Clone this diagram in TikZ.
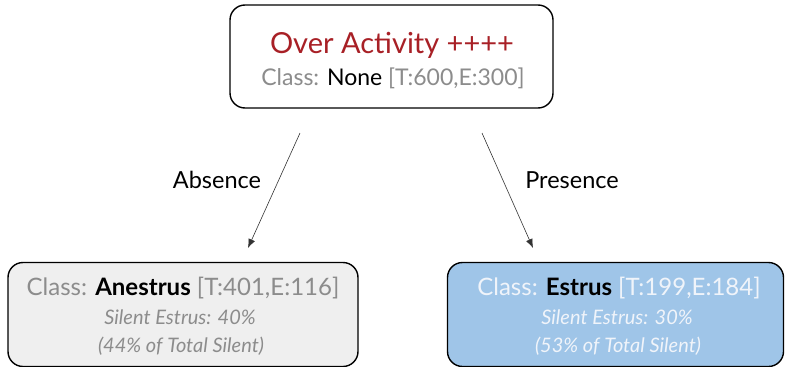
\documentclass[tikz,border=0pt]{standalone}
\usepackage{fontspec}
\setmainfont{Lato}
\usetikzlibrary{arrows.meta}
\definecolor{titlered}{RGB}{168,32,38}
\definecolor{softgray}{RGB}{140,140,140}
\definecolor{leaffill}{RGB}{239,239,239}
\definecolor{hitfill}{RGB}{159,197,232}
\definecolor{hittext}{RGB}{240,244,250}
\tikzset{
  treebox/.style={draw=black, line width=1.4pt, rounded corners=15pt, inner sep=0pt},
  branch/.style={draw=black!80, line width=0.6pt, -{Latex[length=9pt,width=7pt]}},
  branchlabel/.style={font=\fontsize{23.5}{28}\selectfont, text=black, anchor=base, inner sep=0pt},
  titleline/.style={font=\fontsize{29}{32}\selectfont, text=titlered, anchor=base, inner sep=0pt},
  classline/.style={font=\fontsize{24}{28}\selectfont, anchor=base, inner sep=0pt},
  noteline/.style={font=\fontsize{20}{24}\selectfont\itshape, anchor=base, inner sep=0pt},
}
\begin{document}
\begin{tikzpicture}[x=1pt,y=-1pt]
  \useasboundingbox (0,0) rectangle (785,367);
  % root split
  \node[treebox, fill=white, minimum width=323pt, minimum height=103pt] (root) at (391.5,56.5) {};
  \node[titleline] (roottitle) at (392,53) {Over Activity ++++};
  \node[classline, font=\fontsize{23}{28}\selectfont, text=softgray] (rootclass) at (393,85)
    {Class: {\color{black}None} [T:600,E:300]};
  % leaves
  \node[treebox, fill=leaffill, minimum width=350pt, minimum height=104pt] (absent) at (183,314.5) {};
  \node[classline, text=softgray] (absentclass) at (183,295)
    {Class: {\color{black}\bfseries Anestrus} [T:401,E:116]};
  \node[noteline, text=softgray] (absentrate) at (180,324) {Silent Estrus: 40\%};
  \node[noteline, text=softgray] (absentshare) at (181,352) {(44\% of Total Silent)};
  \node[treebox, fill=hitfill, minimum width=336pt, minimum height=104pt] (present) at (615.5,314.5) {};
  \node[classline, text=hittext] (presentclass) at (619,295)
    {Class: {\color{black}\bfseries Estrus} [T:199,E:184]};
  \node[noteline, text=hittext] (presentrate) at (617,324) {Silent Estrus: 30\%};
  \node[noteline, text=hittext] (presentshare) at (618,352) {(53\% of Total Silent)};
  % branches
  \coordinate (absstart) at (300,133);
  \coordinate (absend) at (248,248);
  \coordinate (prestart) at (482,133);
  \coordinate (preend) at (533,248);
  \draw[branch] (absstart) -- (absend);
  \draw[branch] (prestart) -- (preend);
  \node[branchlabel] (abslabel) at (217,188) {Absence};
  \node[branchlabel] (prelabel) at (572,188) {Presence};
\end{tikzpicture}
\end{document}
